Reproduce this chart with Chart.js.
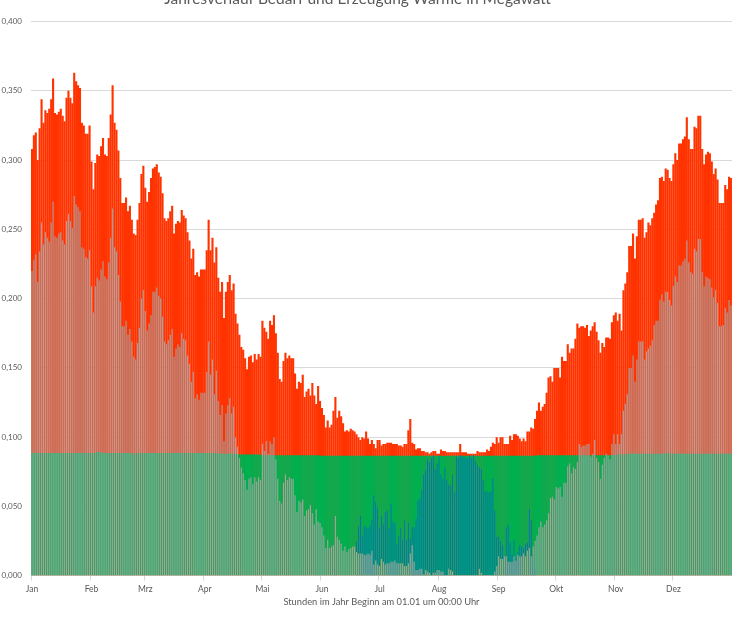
<!DOCTYPE html>
<html>
<head>
<meta charset="utf-8">
<title>Jahresverlauf Wärme</title>
<script src="https://cdn.jsdelivr.net/npm/chart.js@4.4.1/dist/chart.umd.min.js"></script>
<style>
  html, body { margin: 0; padding: 0; background: #fff; }
  #rahmen { position: relative; width: 735px; height: 620px; overflow: hidden; }
  #waerme { position: absolute; left: 0; top: -14px; }
</style>
</head>
<body>
<div id="rahmen"><canvas id="waerme" width="735" height="634"></canvas></div>
<script>
// Monatsbeschriftung der x-Achse (Tag im Jahr, an dem der Monat beginnt)
var monate      = ["Jan","Feb","Mrz","Apr","Mai","Jun","Jul","Aug","Sep","Okt","Nov","Dez"];
var monatsStart = [0, 31, 59, 90, 120, 151, 181, 212, 243, 273, 304, 334];

// Bedarf Wärme je Tag in MW (rot)
var bedarf = [
 0.308,0.318,0.320,0.300,0.323,0.344,0.327,0.336,0.334,0.337,
 0.344,0.359,0.334,0.333,0.335,0.337,0.332,0.328,0.345,0.350,
 0.345,0.341,0.363,0.357,0.354,0.352,0.327,0.325,0.319,0.319,
 0.325,0.299,0.279,0.298,0.304,0.303,0.310,0.316,0.304,0.303,
 0.316,0.333,0.354,0.327,0.322,0.307,0.287,0.269,0.269,0.273,
 0.263,0.267,0.257,0.247,0.246,0.257,0.269,0.290,0.296,0.280,
 0.270,0.277,0.287,0.294,0.295,0.297,0.291,0.288,0.276,0.258,
 0.256,0.258,0.263,0.267,0.247,0.254,0.256,0.255,0.264,0.260,
 0.258,0.248,0.242,0.229,0.236,0.217,0.219,0.216,0.221,0.221,
 0.221,0.235,0.257,0.235,0.244,0.226,0.237,0.215,0.205,0.212,
 0.186,0.205,0.212,0.217,0.206,0.211,0.189,0.182,0.174,0.165,
 0.163,0.157,0.149,0.158,0.159,0.154,0.160,0.156,0.160,0.158,
 0.184,0.179,0.176,0.171,0.184,0.181,0.188,0.175,0.161,0.142,
 0.140,0.155,0.161,0.157,0.159,0.157,0.157,0.146,0.135,0.140,
 0.139,0.145,0.129,0.133,0.135,0.130,0.139,0.130,0.124,0.137,
 0.126,0.121,0.116,0.107,0.112,0.107,0.109,0.119,0.129,0.114,
 0.119,0.115,0.110,0.104,0.105,0.104,0.106,0.105,0.104,0.102,
 0.100,0.098,0.100,0.099,0.104,0.099,0.095,0.098,0.095,0.092,
 0.098,0.098,0.094,0.095,0.095,0.096,0.096,0.096,0.095,0.095,
 0.095,0.094,0.094,0.093,0.095,0.095,0.105,0.113,0.096,0.095,
 0.091,0.092,0.092,0.090,0.090,0.089,0.089,0.088,0.089,0.090,
 0.090,0.088,0.088,0.091,0.090,0.090,0.089,0.089,0.089,0.089,
 0.089,0.089,0.089,0.095,0.089,0.089,0.089,0.088,0.088,0.088,
 0.088,0.088,0.090,0.089,0.089,0.089,0.089,0.091,0.090,0.093,
 0.096,0.095,0.100,0.096,0.100,0.100,0.095,0.095,0.095,0.101,
 0.098,0.102,0.102,0.101,0.099,0.097,0.099,0.097,0.104,0.104,
 0.107,0.106,0.113,0.119,0.125,0.119,0.122,0.124,0.132,0.143,
 0.144,0.140,0.150,0.150,0.150,0.143,0.158,0.155,0.155,0.167,
 0.161,0.164,0.164,0.171,0.182,0.179,0.180,0.180,0.179,0.181,
 0.173,0.177,0.180,0.183,0.176,0.170,0.161,0.168,0.165,0.172,
 0.172,0.171,0.183,0.188,0.190,0.184,0.189,0.177,0.206,0.211,
 0.219,0.238,0.238,0.247,0.229,0.245,0.257,0.257,0.258,0.244,
 0.248,0.255,0.253,0.258,0.262,0.268,0.271,0.287,0.288,0.285,
 0.294,0.293,0.287,0.285,0.297,0.305,0.300,0.312,0.312,0.315,
 0.317,0.331,0.315,0.308,0.308,0.324,0.323,0.332,0.332,0.308,
 0.297,0.304,0.306,0.305,0.299,0.290,0.294,0.286,0.269,0.269,
 0.269,0.282,0.279,0.288,0.287
];

// Grundlast Erzeugung (gruen)
var grundlast = [
 0.0885,0.0885,0.0885,0.0885,0.0885,0.0885,0.0885,0.0885,0.0885,0.0885,
 0.0885,0.0885,0.0885,0.0885,0.0885,0.0885,0.0885,0.0885,0.0885,0.0885,
 0.0885,0.0885,0.0885,0.0885,0.0885,0.0885,0.0885,0.0885,0.0885,0.0885,
 0.0885,0.0885,0.0885,0.0885,0.0890,0.0895,0.0890,0.0885,0.0885,0.0885,
 0.0885,0.0885,0.0885,0.0885,0.0885,0.0885,0.0885,0.0885,0.0885,0.0885,
 0.0885,0.0885,0.0880,0.0875,0.0885,0.0885,0.0885,0.0885,0.0885,0.0885,
 0.0885,0.0885,0.0885,0.0885,0.0885,0.0885,0.0885,0.0885,0.0885,0.0885,
 0.0885,0.0885,0.0885,0.0885,0.0885,0.0885,0.0885,0.0885,0.0885,0.0885,
 0.0885,0.0885,0.0885,0.0885,0.0885,0.0885,0.0885,0.0885,0.0885,0.0885,
 0.0885,0.0885,0.0885,0.0885,0.0885,0.0885,0.0885,0.0885,0.0880,0.0880,
 0.0880,0.0880,0.0880,0.0880,0.0880,0.0880,0.0880,0.0875,0.0875,0.0875,
 0.0875,0.0875,0.0875,0.0875,0.0875,0.0875,0.0875,0.0875,0.0875,0.0875,
 0.0870,0.0870,0.0870,0.0870,0.0870,0.0870,0.0870,0.0870,0.0870,0.0870,
 0.0870,0.0870,0.0870,0.0870,0.0870,0.0870,0.0870,0.0870,0.0870,0.0870,
 0.0870,0.0870,0.0870,0.0870,0.0870,0.0870,0.0870,0.0870,0.0870,0.0870,
 0.0865,0.0865,0.0865,0.0865,0.0865,0.0865,0.0865,0.0865,0.0865,0.0865,
 0.0865,0.0865,0.0865,0.0865,0.0865,0.0865,0.0865,0.0865,0.0865,0.0865,
 0.0865,0.0865,0.0865,0.0865,0.0865,0.0865,0.0865,0.0865,0.0865,0.0865,
 0.0865,0.0865,0.0865,0.0865,0.0865,0.0865,0.0865,0.0865,0.0865,0.0865,
 0.0865,0.0865,0.0865,0.0865,0.0865,0.0865,0.0865,0.0865,0.0865,0.0865,
 0.0865,0.0865,0.0865,0.0865,0.0865,0.0865,0.0865,0.0865,0.0865,0.0865,
 0.0865,0.0865,0.0865,0.0865,0.0865,0.0865,0.0865,0.0865,0.0865,0.0865,
 0.0865,0.0865,0.0865,0.0865,0.0865,0.0865,0.0865,0.0865,0.0865,0.0865,
 0.0865,0.0865,0.0865,0.0865,0.0865,0.0865,0.0865,0.0865,0.0865,0.0865,
 0.0865,0.0865,0.0865,0.0865,0.0865,0.0865,0.0865,0.0865,0.0865,0.0865,
 0.0865,0.0865,0.0865,0.0865,0.0865,0.0865,0.0865,0.0865,0.0865,0.0865,
 0.0865,0.0865,0.0865,0.0870,0.0870,0.0870,0.0870,0.0870,0.0870,0.0870,
 0.0870,0.0870,0.0870,0.0870,0.0870,0.0870,0.0870,0.0870,0.0870,0.0870,
 0.0870,0.0870,0.0870,0.0870,0.0870,0.0870,0.0870,0.0870,0.0870,0.0870,
 0.0870,0.0870,0.0870,0.0870,0.0870,0.0870,0.0870,0.0870,0.0870,0.0870,
 0.0870,0.0870,0.0870,0.0870,0.0875,0.0875,0.0875,0.0875,0.0875,0.0875,
 0.0880,0.0880,0.0880,0.0880,0.0880,0.0880,0.0880,0.0880,0.0880,0.0880,
 0.0880,0.0880,0.0880,0.0880,0.0880,0.0880,0.0880,0.0880,0.0880,0.0880,
 0.0885,0.0885,0.0880,0.0880,0.0880,0.0880,0.0880,0.0880,0.0880,0.0880,
 0.0880,0.0880,0.0880,0.0880,0.0880,0.0880,0.0880,0.0880,0.0880,0.0880,
 0.0880,0.0880,0.0880,0.0880,0.0880,0.0880,0.0880,0.0880,0.0880,0.0880,
 0.0880,0.0880,0.0880,0.0880,0.0880
];

// Restwaerme Spitzenlast (grau)
var restwaerme = [
 0.220,0.228,0.232,0.212,0.234,0.255,0.239,0.248,0.244,0.241,
 0.255,0.270,0.245,0.244,0.247,0.248,0.242,0.239,0.256,0.261,
 0.256,0.251,0.274,0.268,0.266,0.263,0.237,0.236,0.230,0.229,
 0.235,0.209,0.190,0.209,0.215,0.213,0.221,0.227,0.216,0.214,
 0.226,0.244,0.265,0.237,0.234,0.217,0.198,0.180,0.180,0.184,
 0.174,0.178,0.169,0.158,0.156,0.168,0.179,0.200,0.206,0.191,
 0.177,0.182,0.188,0.205,0.205,0.208,0.202,0.200,0.187,0.169,
 0.167,0.170,0.174,0.178,0.158,0.164,0.167,0.165,0.175,0.171,
 0.170,0.159,0.153,0.140,0.147,0.128,0.131,0.127,0.132,0.132,
 0.132,0.147,0.169,0.145,0.156,0.131,0.148,0.126,0.116,0.123,
 0.097,0.117,0.123,0.128,0.117,0.122,0.100,0.093,0.085,0.078,
 0.074,0.069,0.062,0.070,0.071,0.066,0.071,0.068,0.071,0.069,
 0.095,0.090,0.097,0.088,0.097,0.095,0.100,0.084,0.070,0.054,
 0.052,0.067,0.073,0.069,0.071,0.070,0.070,0.058,0.046,0.054,
 0.053,0.055,0.043,0.047,0.048,0.051,0.045,0.037,0.048,0.039,
 0.038,0.035,0.029,0.020,0.026,0.020,0.021,0.022,0.043,0.028,
 0.026,0.023,0.018,0.021,0.017,0.019,0.020,0.021,0.021,0.017,
 0.016,0.016,0.016,0.015,0.015,0.016,0.015,0.018,0.008,0.011,
 0.008,0.007,0.012,0.010,0.008,0.009,0.009,0.010,0.010,0.011,
 0.009,0.009,0.009,0.009,0.007,0.007,0.009,0.016,0.022,0.010,
 0.004,0.004,0.005,0.005,0.001,0.004,0.003,0.002,0.000,0.002,
 0.002,0.004,0.004,0.003,0.003,0.000,0.000,0.005,0.004,0.003,
 0.000,0.000,0.000,0.000,0.000,0.000,0.000,0.000,0.000,0.000,
 0.000,0.000,0.000,0.005,0.002,0.000,0.000,0.000,0.000,0.000,
 0.000,0.003,0.007,0.014,0.012,0.012,0.014,0.014,0.010,0.010,
 0.010,0.014,0.011,0.015,0.014,0.014,0.016,0.014,0.018,0.020,
 0.014,0.021,0.025,0.029,0.035,0.039,0.035,0.037,0.040,0.045,
 0.056,0.057,0.055,0.064,0.063,0.064,0.057,0.067,0.067,0.079,
 0.081,0.074,0.078,0.077,0.082,0.095,0.093,0.094,0.094,0.095,
 0.095,0.086,0.088,0.098,0.085,0.082,0.070,0.080,0.085,0.088,
 0.087,0.084,0.095,0.102,0.095,0.102,0.095,0.102,0.119,0.124,
 0.131,0.150,0.150,0.159,0.140,0.156,0.169,0.169,0.169,0.156,
 0.162,0.164,0.166,0.170,0.181,0.184,0.184,0.199,0.203,0.198,
 0.205,0.205,0.199,0.195,0.209,0.216,0.212,0.224,0.224,0.227,
 0.229,0.242,0.226,0.219,0.218,0.236,0.234,0.243,0.243,0.219,
 0.209,0.216,0.215,0.214,0.208,0.201,0.206,0.197,0.180,0.180,
 0.181,0.193,0.190,0.199,0.195
];

// Solarthermie (blau), nur im Sommer
var solar = [
 0,0,0,0,0,0,0,0,0,0, 0,0,0,0,0,0,0,0,0,0,
 0,0,0,0,0,0,0,0,0,0, 0,0,0,0,0,0,0,0,0,0,
 0,0,0,0,0,0,0,0,0,0, 0,0,0,0,0,0,0,0,0,0,
 0,0,0,0,0,0,0,0,0,0, 0,0,0,0,0,0,0,0,0,0,
 0,0,0,0,0,0,0,0,0,0, 0,0,0,0,0,0,0,0,0,0,
 0,0,0,0,0,0,0,0,0,0, 0,0,0,0,0,0,0,0,0,0,
 0,0,0,0,0,0,0,0,0,0, 0,0,0,0,0,0,0,0,0,0,
 0,0,0,0,0,0,0,0,0,0,
 0,0,0,0,0,0,0,0,0.007,0,
 0,0,0,0,0,0,0,0,0,0.025,
 0.036,0.043,0.029,0.036,0.035,0.034,0.036,0.040,0.058,0.053,
 0.049,0.034,0.043,0.037,0.046,0.047,0.034,0.052,0.039,0.038,
 0.023,0.029,0.034,0.026,0.040,0.026,0.038,0.027,0.035,0.035,
 0.041,0.054,0.056,0.062,0.073,0.076,0.084,0.082,0.085,0.087,
 0.077,0.081,0.086,0.073,0.070,0.078,0.069,0.066,0.065,0.073,
 0.060,0.086,0.085,0.087,0.086,0.086,0.085,0.085,0.087,0.085,
 0.087,0.083,0.080,0.078,0.077,0.069,0.061,0.061,0.060,0.061,
 0.070,0.047,0.028,0.028,0.025,0.022,0.014,0.035,0.037,0.024,
 0.015,0.026,0.012,0.017,0.022,0.021,0.020,0.023,0.024,0.048,
 0.040,0.015,0.005,0,0,0,0,0,0,0,
 0,0,0,0,0,0,0,0,0,0, 0,0,0,0,0,0,0,0,0,0,
 0,0,0,0,0,0,0,0,0,0, 0,0,0,0,0,0,0,0,0,0,
 0,0,0,0,0,0,0,0,0,0, 0,0,0,0,0,0,0,0,0,0,
 0,0,0,0,0,0,0,0,0,0, 0,0,0,0,0,0,0,0,0,0,
 0,0,0,0,0,0,0,0,0,0, 0,0,0,0,0
];

var tage = [];
for (var i = 0; i < bedarf.length; i++) { tage.push(i + 1); }

var schrift = "Lato, 'Liberation Sans', sans-serif";
var textFarbe = "#595959";
var gitterFarbe = "#d9d9d9";

new Chart(document.getElementById("waerme"), {
  type: "bar",
  data: {
    labels: tage,
    datasets: [
      { label: "Spitzenlast", data: restwaerme, backgroundColor: "#a5a5a5",
        grouped: false, barPercentage: 0.55, categoryPercentage: 1 },
      { label: "Solar", data: solar, backgroundColor: "#0070c0",
        grouped: false, barPercentage: 0.45, categoryPercentage: 1 },
      { label: "Grundlast", data: grundlast, backgroundColor: "#00b050",
        grouped: false, barPercentage: 1.1, categoryPercentage: 1 },
      { label: "Bedarf", data: bedarf, backgroundColor: "#ff3300",
        grouped: false, barPercentage: 1.1, categoryPercentage: 1 }
    ]
  },
  options: {
    responsive: false,
    animation: false,
    events: [],
    layout: { padding: { left: 0, right: 0, top: 0, bottom: 10 } },
    plugins: {
      legend: { display: false },
      tooltip: { enabled: false },
      title: {
        display: true,
        // Leerzeichen am Ende ruecken den Titel etwas nach links wie im Original
        text: "Jahresverlauf Bedarf und Erzeugung Wärme in Megawatt\u00a0\u00a0\u00a0\u00a0\u00a0",
        color: textFarbe,
        font: { family: schrift, size: 15.5, weight: "normal" },
        padding: { top: 4, bottom: 13 }
      }
    },
    scales: {
      x: {
        offset: true,
        grid: {
          offset: true,
          drawOnChartArea: false,
          drawTicks: true,
          tickLength: 5,
          color: function (ctx) {
            return monatsStart.indexOf(ctx.index) >= 0 ? gitterFarbe : "rgba(0,0,0,0)";
          }
        },
        border: { color: gitterFarbe },
        ticks: {
          autoSkip: false,
          maxRotation: 0,
          minRotation: 0,
          padding: 4,
          color: textFarbe,
          font: { family: schrift, size: 8.5 },
          callback: function (wert, index) {
            var m = monatsStart.indexOf(index);
            return m >= 0 ? monate[m] : "";
          }
        },
        title: {
          display: true,
          text: "Stunden im Jahr Beginn am 01.01 um 00:00 Uhr",
          color: textFarbe,
          font: { family: schrift, size: 9.3 },
          padding: { top: -2, bottom: 2 }
        }
      },
      y: {
        min: 0,
        max: 0.4,
        afterFit: function (achse) { achse.width = 31; },
        grid: { color: gitterFarbe, drawTicks: false },
        border: { display: false },
        ticks: {
          stepSize: 0.05,
          padding: 9,
          color: textFarbe,
          font: { family: schrift, size: 8 },
          callback: function (wert) { return wert.toFixed(3).replace(".", ","); }
        }
      }
    }
  }
});
</script>
</body>
</html>
